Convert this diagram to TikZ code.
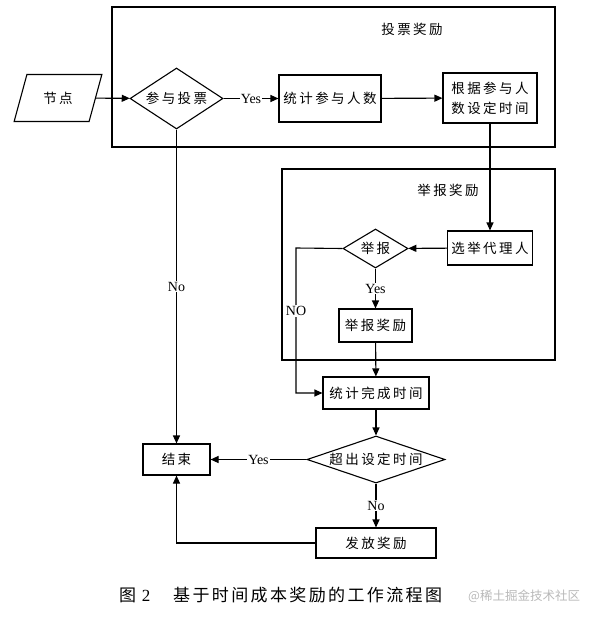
\documentclass[tikz,border=0pt]{standalone}
\usepackage{fontspec}
\setmainfont{Liberation Serif}
\newfontfamily\cjk[LetterSpace=18]{Noto Sans CJK SC}
\newfontfamily\cjkcap[LetterSpace=14]{Noto Sans CJK SC}
\newfontfamily\cjkmark{Noto Sans CJK SC}
\usepackage{tikz}
\usetikzlibrary{arrows.meta,shapes.geometric,positioning}
\definecolor{markgray}{RGB}{185,185,185}
\tikzstyle{process} = [rectangle, draw, line width=1.1pt, text centered, inner sep=0pt, font=\cjk\fontsize{13.5}{20}\selectfont]
\tikzstyle{decision} = [diamond, draw, line width=1.1pt, inner sep=0pt, font=\cjk\fontsize{13.5}{20}\selectfont]
\tikzstyle{inout} = [trapezium, trapezium left angle=64, trapezium right angle=116, trapezium stretches=true, draw, line width=1.1pt, inner sep=0pt, font=\cjk\fontsize{13.5}{20}\selectfont]
\tikzstyle{frame} = [rectangle, draw, line width=1.1pt]
\tikzstyle{arrow} = [line width=1.1pt, -{Triangle[length=8pt,width=7pt]}]
\tikzstyle{line} = [line width=1.1pt]
\tikzstyle{lbl} = [fill=white, inner sep=1pt, font=\fontsize{14}{16}\selectfont]

\begin{document}
\begin{tikzpicture}[x=1pt, y=-1pt]
\useasboundingbox (0,0) rectangle (597,618);
% frames
\node[frame, minimum width=443, minimum height=140] (votebox) at (333.5,77) {};
\node[font=\cjk\fontsize{13.5}{16}\selectfont] (votetitle) at (412,29) {投票奖励};
\node[frame, minimum width=273, minimum height=191] (reportbox) at (418.5,264.5) {};
\node[font=\cjk\fontsize{13.5}{16}\selectfont] (reporttitle) at (448,190) {举报奖励};

% vote part
\node[inout, minimum width=88, minimum height=47] (jd) at (58,98) {节点};
\node[decision, minimum width=93, minimum height=61, shape aspect=1.5] (cy) at (176.5,98.5) {参与投票};
\node[process, minimum width=102, minimum height=47] (tj) at (330,98.5) {统计参与人数};
\node[process, minimum width=94, minimum height=50, align=center] (sd) at (490,98) {根据参与人\\数设定时间};

% report part
\node[process, minimum width=85, minimum height=34] (xj) at (490,248) {选举代理人};
\node[decision, minimum width=65, minimum height=39, shape aspect=1.6] (jb) at (375.5,248.5) {举报};
\node[process, minimum width=73, minimum height=33] (jbjl) at (375.5,325.5) {举报奖励};
\coordinate (noturn) at (296,248);

% time check
\node[process, minimum width=106, minimum height=32] (tw) at (376,393) {统计完成时间};
\node[decision, minimum width=138, minimum height=47, shape aspect=3] (cc) at (376,459.5) {超出设定时间};
\node[process, minimum width=67, minimum height=31] (js) at (176.5,459.5) {结束};
\node[process, minimum width=120, minimum height=30] (ff) at (376,543) {发放奖励};

% connectors
\draw[arrow] (jd) -- (cy);
\draw[arrow] (cy) -- node[lbl] {Yes} (tj);
\draw[arrow] (tj) -- (sd);
\draw[arrow] (sd.south) -- (xj.north);
\draw[arrow] (xj) -- (jb);
\draw[arrow] (jb) -- node[lbl] {Yes} (jbjl);
\draw[arrow] (jbjl) -- (tw);
\draw[arrow] (jb.west) -- (noturn) |- node[lbl, pos=0.217] {NO} (tw.west);
\draw[arrow] (tw) -- (cc);
\draw[arrow] (cc) -- node[lbl] {Yes} (js);
\draw[arrow] (cc) -- node[lbl] {No} (ff);
\draw[arrow] (ff.west) -| (js.south);
\draw[arrow] (cy.south) -- node[lbl] {No} (js.north);

% caption
\node[anchor=west, inner sep=0pt, font=\fontsize{17}{20}\selectfont] (figno) at (119,595) {{\cjkmark 图}\,\,2};
\node[anchor=west, inner sep=0pt, font=\cjkcap\fontsize{17}{20}\selectfont] (caption) at (173,595) {基于时间成本奖励的工作流程图};
\node[anchor=west, inner sep=0pt, text=markgray, font=\cjkmark\fontsize{12.5}{15}\selectfont] (mark) at (468,596) {@稀土掘金技术社区};
\end{tikzpicture}
\end{document}
